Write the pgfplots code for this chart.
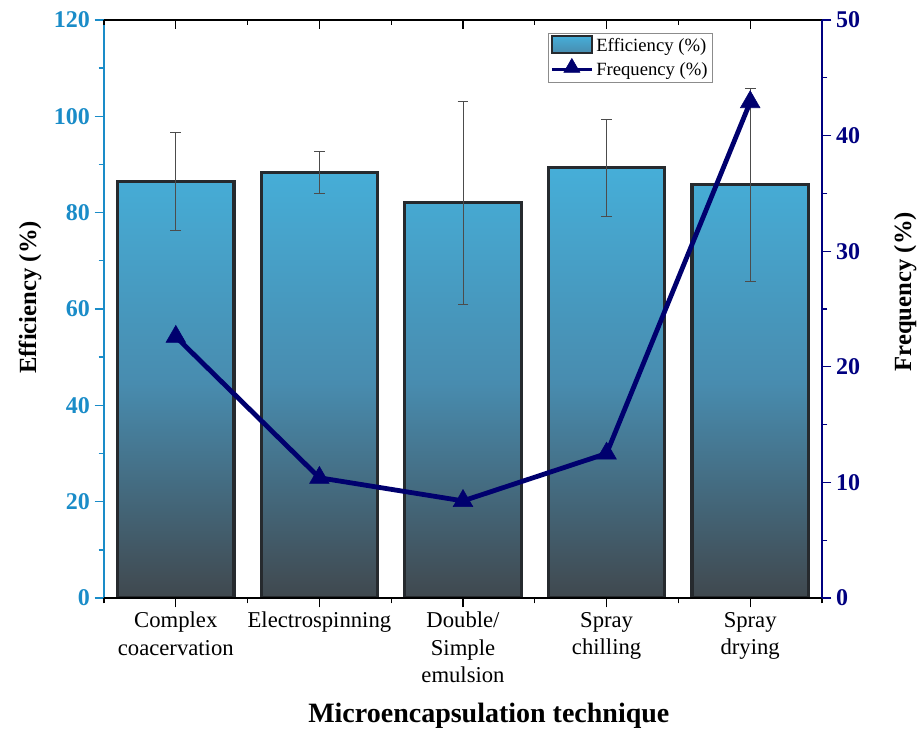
\documentclass[border=0pt]{standalone}
\usepackage{fontspec}
\setmainfont{Liberation Serif}
\usepackage{pgfplots}
\usepackage{pgfplotstable}
\pgfplotsset{compat=1.18}

\definecolor{effblue}{RGB}{26,140,200}
\definecolor{freqnavy}{RGB}{0,0,128}
\definecolor{linenavy}{RGB}{0,0,110}
\definecolor{barTop}{RGB}{70,174,216}
\definecolor{barMid}{RGB}{72,140,175}
\definecolor{barBot}{RGB}{64,72,78}
\definecolor{barEdge}{RGB}{38,42,46}

% x: technique index, eff: efficiency (%), err: its deviation, freq: frequency (%)
\pgfplotstableread{
x eff  err  freq
0 86.5 10.2 22.6
1 88.4 4.4  10.4
2 82.1 21.1 8.4
3 89.3 10.1 12.5
4 85.8 20.0 42.9
}\datatable

\pgfplotsset{
  base/.style={
    width=538.5pt, height=433.5pt, scale only axis,
    xmin=-0.5, xmax=4.5, at={(0,0)}, anchor=south west,
    /pgf/number format/assume math mode=true,
    major tick length=7pt, minor tick length=4pt,
  },
}

\begin{document}
\begin{tikzpicture}
\useasboundingbox (-78pt,-98.25pt) rectangle (613.5pt,448.5pt);

% left axis: efficiency bars with error bars
\begin{axis}[base,
  ymin=0, ymax=120,
  axis x line=none, axis y line*=left,
  y axis line style={-, draw=effblue, line width=1.2pt},
  tick align=outside,
  tick style={draw=effblue, line width=1pt},
  ytick={0,20,...,120}, minor ytick={10,30,...,110},
  yticklabel style={font=\fontsize{18}{20}\selectfont\bfseries, text=effblue},
  ylabel={Efficiency (\%)},
  ylabel style={at={(axis description cs:-0.103,0.52)}, anchor=center,
    font=\fontsize{18.5}{21}\selectfont\bfseries, text=black},
]
\addplot[ybar, bar width=0.81, draw=barEdge, line width=2.4pt,
  top color=barTop, bottom color=barBot, middle color=barMid]
  table[x=x, y=eff] {\datatable};
\addplot[draw=none, mark=none, forget plot,
  error bars/.cd, y dir=both, y explicit,
  error bar style={draw=black!70, line width=0.6pt},
  error mark options={rotate=90, mark size=4pt, draw=black!70, line width=0.6pt}]
  table[x=x, y=eff, y error=err] {\datatable};
\end{axis}

% bottom axis: categories
\begin{axis}[base,
  ymin=0, ymax=1,
  axis y line=none, axis x line*=bottom,
  x axis line style={-, draw=black, line width=1.2pt},
  tick align=outside,
  tick style={draw=black, line width=1pt},
  xtick={0,...,4}, minor xtick={-0.5,0.5,...,4.5},
  xticklabels={Complex\\coacervation, Electrospinning, Double/\\Simple\\emulsion, Spray\\chilling, Spray\\drying},
  xticklabel style={align=center, font=\fontsize{17}{20.5}\selectfont, text=black},
  xlabel={Microencapsulation technique},
  xlabel style={at={(axis description cs:0.536,-0.204)}, anchor=center,
    font=\fontsize{21}{23}\selectfont\bfseries},
]
\end{axis}

% top frame with inward ticks
\begin{axis}[base,
  ymin=0, ymax=1,
  axis y line=none, axis x line*=top,
  x axis line style={-, draw=black, line width=1.2pt},
  tick align=inside,
  tick style={draw=black, line width=1pt},
  xtick={0,...,4}, minor xtick={-0.5,0.5,...,4.5},
  xticklabels={},
]
\end{axis}

% right axis: frequency line
\begin{axis}[base,
  ymin=0, ymax=50,
  axis x line=none, axis y line*=right,
  y axis line style={-, draw=freqnavy, line width=1.2pt},
  tick align=outside,
  tick style={draw=freqnavy, line width=1pt},
  ytick={0,10,...,50}, minor ytick={5,15,...,45},
  yticklabel style={font=\fontsize{18}{20}\selectfont\bfseries, text=freqnavy},
  ylabel={Frequency (\%)},
  ylabel style={at={(axis description cs:1.116,0.53)}, anchor=center,
    font=\fontsize{18.5}{21}\selectfont\bfseries, text=black},
  legend style={at={(axis description cs:0.618,0.978)}, anchor=north west,
    draw=black!45, line width=0.6pt, font=\fontsize{14}{16}\selectfont,
    inner sep=1.5pt, row sep=2pt},
  legend cell align=left,
]
\addlegendimage{legend image code/.code={
  \draw[draw=barEdge, line width=1.6pt, top color=barTop, bottom color=barMid]
    (0pt,-5.5pt) rectangle (30pt,7pt);}}
\addlegendentry{Efficiency (\%)}
\addplot[linenavy, line width=3.6pt, mark=triangle*, mark size=8.5pt,
  mark options={line width=0.4pt},
  legend image code/.code={
    \draw[linenavy, line width=2.6pt] (0pt,0pt) -- (30pt,0pt);
    \draw[linenavy, fill=linenavy, line width=0.4pt, mark=triangle*, mark size=7pt]
      plot coordinates {(15pt,1.5pt)};}]
  table[x=x, y=freq] {\datatable};
\addlegendentry{Frequency (\%)}
\end{axis}
\end{tikzpicture}
\end{document}
